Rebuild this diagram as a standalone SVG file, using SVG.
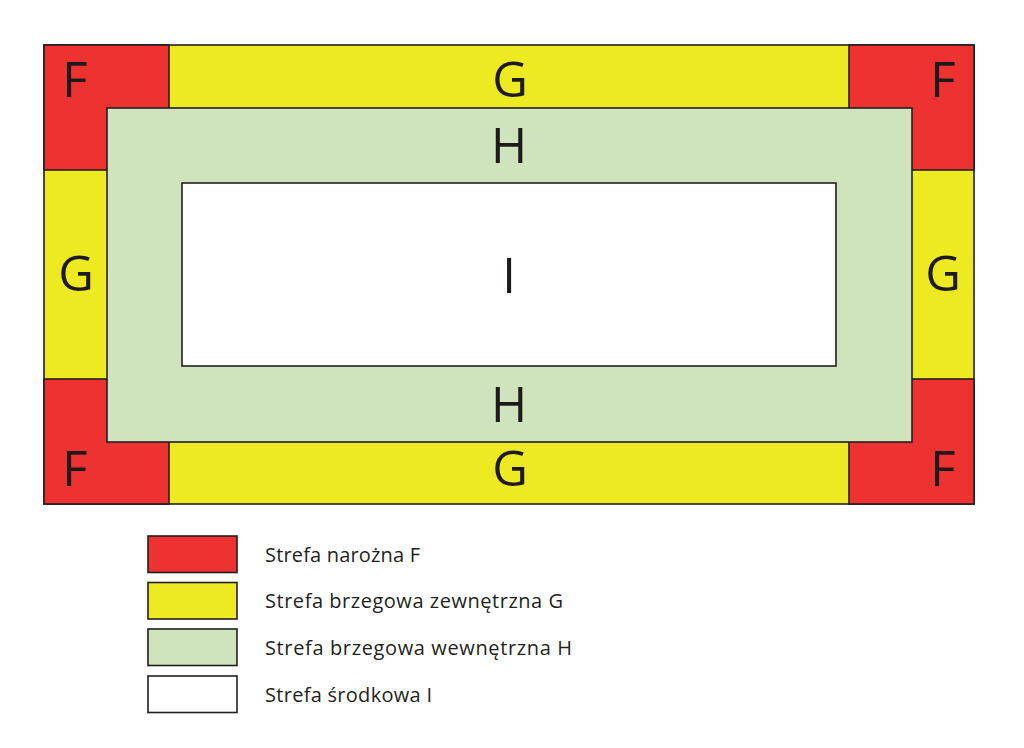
<svg xmlns="http://www.w3.org/2000/svg" width="1024" height="748" viewBox="0 0 1024 748">
<style>
.z{stroke:#231f20;stroke-width:1.6}
.f{fill:#ee3131}.g{fill:#eeea22}.h{fill:#cfe3bd}.i{fill:#ffffff}
.big{font-family:"Open Sans","Noto Sans",sans-serif;font-size:49px;fill:#1f1a1a;text-anchor:middle}
.lg{font-family:"Open Sans","Noto Sans",sans-serif;font-size:20px;fill:#231f20}
</style>
<rect width="1024" height="748" fill="#ffffff"/>
<g id="zone-G-outer"><rect class="z g" x="44" y="45" width="930" height="459"/></g>
<g id="zone-F">
<rect class="z f" x="44" y="45" width="125" height="125"/>
<rect class="z f" x="849" y="45" width="125" height="125"/>
<rect class="z f" x="44" y="379" width="125" height="125"/>
<rect class="z f" x="849" y="379" width="125" height="125"/>
</g>
<g id="zone-H"><rect class="z h" x="107" y="108" width="805" height="334"/></g>
<g id="zone-I"><rect class="z i" x="182" y="183" width="654" height="183"/></g>
<g id="labels">
<text class="big" x="75" y="97">F</text>
<text class="big" x="943" y="97">F</text>
<text class="big" x="75" y="486">F</text>
<text class="big" x="943" y="486">F</text>
<text class="big" x="510" y="97">G</text>
<text class="big" x="510" y="486">G</text>
<text class="big" x="76" y="291">G</text>
<text class="big" x="943" y="291">G</text>
<text class="big" x="509" y="163">H</text>
<text class="big" x="509" y="422">H</text>
<text class="big" x="509" y="293">I</text>
</g>
<g id="legend">
<rect class="z f" x="148" y="536" width="89" height="36.5"/>
<rect class="z g" x="148" y="582.5" width="89" height="36.5"/>
<rect class="z h" x="148" y="629" width="89" height="36.5"/>
<rect class="z i" x="148" y="676" width="89" height="36.5"/>
<text class="lg" x="265" y="561.5" textLength="155">Strefa narożna F</text>
<text class="lg" x="265" y="608" textLength="298">Strefa brzegowa zewnętrzna G</text>
<text class="lg" x="265" y="655" textLength="307">Strefa brzegowa wewnętrzna H</text>
<text class="lg" x="265" y="701.5" textLength="167">Strefa środkowa I</text>
</g>
</svg>
